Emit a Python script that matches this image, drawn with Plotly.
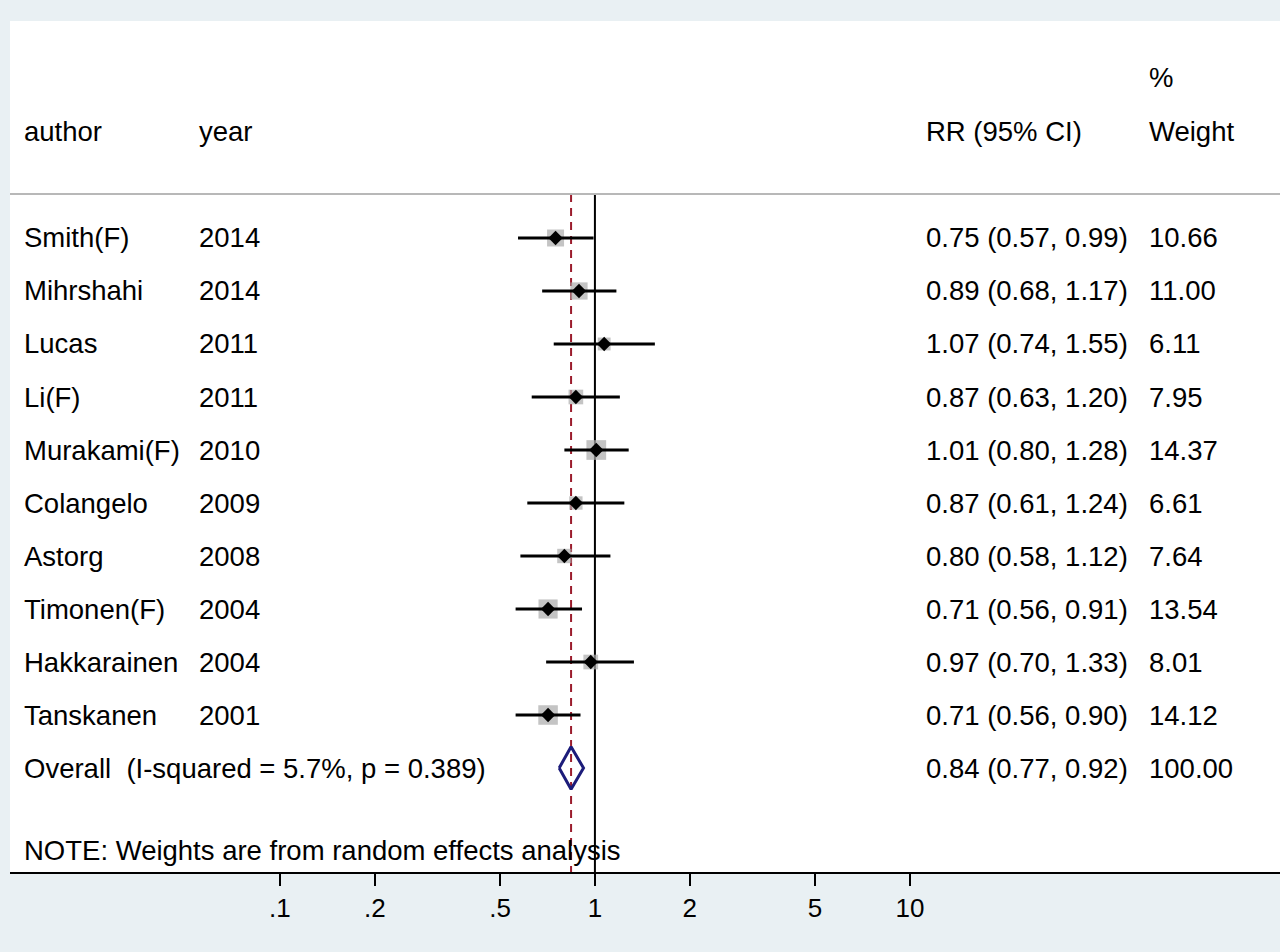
import plotly.graph_objects as go

authors = ["Smith(F)", "Mihrshahi", "Lucas", "Li(F)", "Murakami(F)", "Colangelo",
           "Astorg", "Timonen(F)", "Hakkarainen", "Tanskanen"]
years = ["2014", "2014", "2011", "2011", "2010", "2009", "2008", "2004", "2004", "2001"]
rr = [0.75, 0.89, 1.07, 0.87, 1.01, 0.87, 0.80, 0.71, 0.97, 0.71]
lo = [0.57, 0.68, 0.74, 0.63, 0.80, 0.61, 0.58, 0.56, 0.70, 0.56]
hi = [0.99, 1.17, 1.55, 1.20, 1.28, 1.24, 1.12, 0.91, 1.33, 0.90]
weights = [10.66, 11.00, 6.11, 7.95, 14.37, 6.61, 7.64, 13.54, 8.01, 14.12]
overall_rr, overall_lo, overall_hi = 0.84, 0.77, 0.92
overall_label = "Overall\u00a0\u00a0(I-squared = 5.7%, p = 0.389)"
note = "NOTE: Weights are from random effects analysis"
tick_vals = [0.1, 0.2, 0.5, 1, 2, 5, 10]
tick_text = [".1", ".2", ".5", "1", "2", "5", "10"]

FONT = "Liberation Sans, Arial, sans-serif"
FS = 27.5
rows = list(range(len(authors)))
overall_row = len(authors)

fig = go.Figure()

# reference lines
fig.add_trace(go.Scatter(x=[1, 1], y=[-0.83, 11.962], mode="lines",
                         line=dict(color="black", width=2), hoverinfo="skip", showlegend=False))
fig.add_trace(go.Scatter(x=[overall_rr, overall_rr], y=[-0.83, 11.962], mode="lines",
                         line=dict(color="#9b1c2c", width=2, dash="8px,6px"), hoverinfo="skip", showlegend=False))

# weight squares
fig.add_trace(go.Scatter(x=rr, y=rows, mode="markers",
                         marker=dict(symbol="square", color="#ababab",
                                     size=[5.2 * w ** 0.5 for w in weights], line=dict(width=0)),
                         hoverinfo="skip", showlegend=False))
# CI lines
for i in rows:
    fig.add_trace(go.Scatter(x=[lo[i], hi[i]], y=[i, i], mode="lines",
                             line=dict(color="black", width=3), hoverinfo="skip", showlegend=False))
# point estimates
fig.add_trace(go.Scatter(x=rr, y=rows, mode="markers",
                         marker=dict(symbol="diamond", color="black", size=11),
                         hoverinfo="skip", showlegend=False))
# overall diamond
fig.add_trace(go.Scatter(x=[overall_lo, overall_rr, overall_hi, overall_rr, overall_lo],
                         y=[overall_row, overall_row - 0.4, overall_row, overall_row + 0.4, overall_row],
                         mode="lines", line=dict(color="#1c1c7a", width=3),
                         hoverinfo="skip", showlegend=False))

# separator line
fig.add_shape(type="line", xref="paper", yref="y", x0=0, x1=1, y0=-0.83, y1=-0.83,
              line=dict(color="#b8b8b8", width=2))

def txt(x, y, s):
    fig.add_annotation(xref="paper", yref="y", x=x, y=y, text=s, showarrow=False,
                       xanchor="left", yanchor="middle", font=dict(family=FONT, size=FS, color="black"))

def px(p):
    return (p - 10) / 1270

txt(px(22), -2, "author")
txt(px(197), -2, "year")
txt(px(924), -2, "RR (95% CI)")
txt(px(1147), -2, "Weight")
txt(px(1147), -3.02, "%")

for i in rows:
    txt(px(22), i, authors[i])
    txt(px(197), i, years[i])
    txt(px(924), i, f"{rr[i]:.2f} ({lo[i]:.2f}, {hi[i]:.2f})")
    txt(px(1147), i, f"{weights[i]:.2f}")

txt(px(22), overall_row, overall_label)
txt(px(924), overall_row, f"{overall_rr:.2f} ({overall_lo:.2f}, {overall_hi:.2f})")
txt(px(1147), overall_row, "100.00")
txt(px(22), 11.55, note)

fig.update_layout(
    width=1280, height=952,
    margin=dict(l=10, r=0, t=21, b=80),
    paper_bgcolor="#e9f0f3", plot_bgcolor="white",
    xaxis=dict(type="log", range=[-1.857, 2.175], tickvals=tick_vals, ticktext=tick_text,
               showgrid=False, zeroline=False, showline=True, linecolor="black", linewidth=2,
               ticks="outside", ticklen=12, tickwidth=2, tickcolor="black",
               tickfont=dict(family=FONT, size=26, color="black"), fixedrange=True),
    yaxis=dict(range=[11.962, -4.094], showgrid=False, zeroline=False, showticklabels=False,
               showline=False, fixedrange=True),
    showlegend=False,
)

fig.write_html("out.html", config={"displayModeBar": False},
               post_script="document.body.style.margin='0';document.body.style.overflow='hidden';")
